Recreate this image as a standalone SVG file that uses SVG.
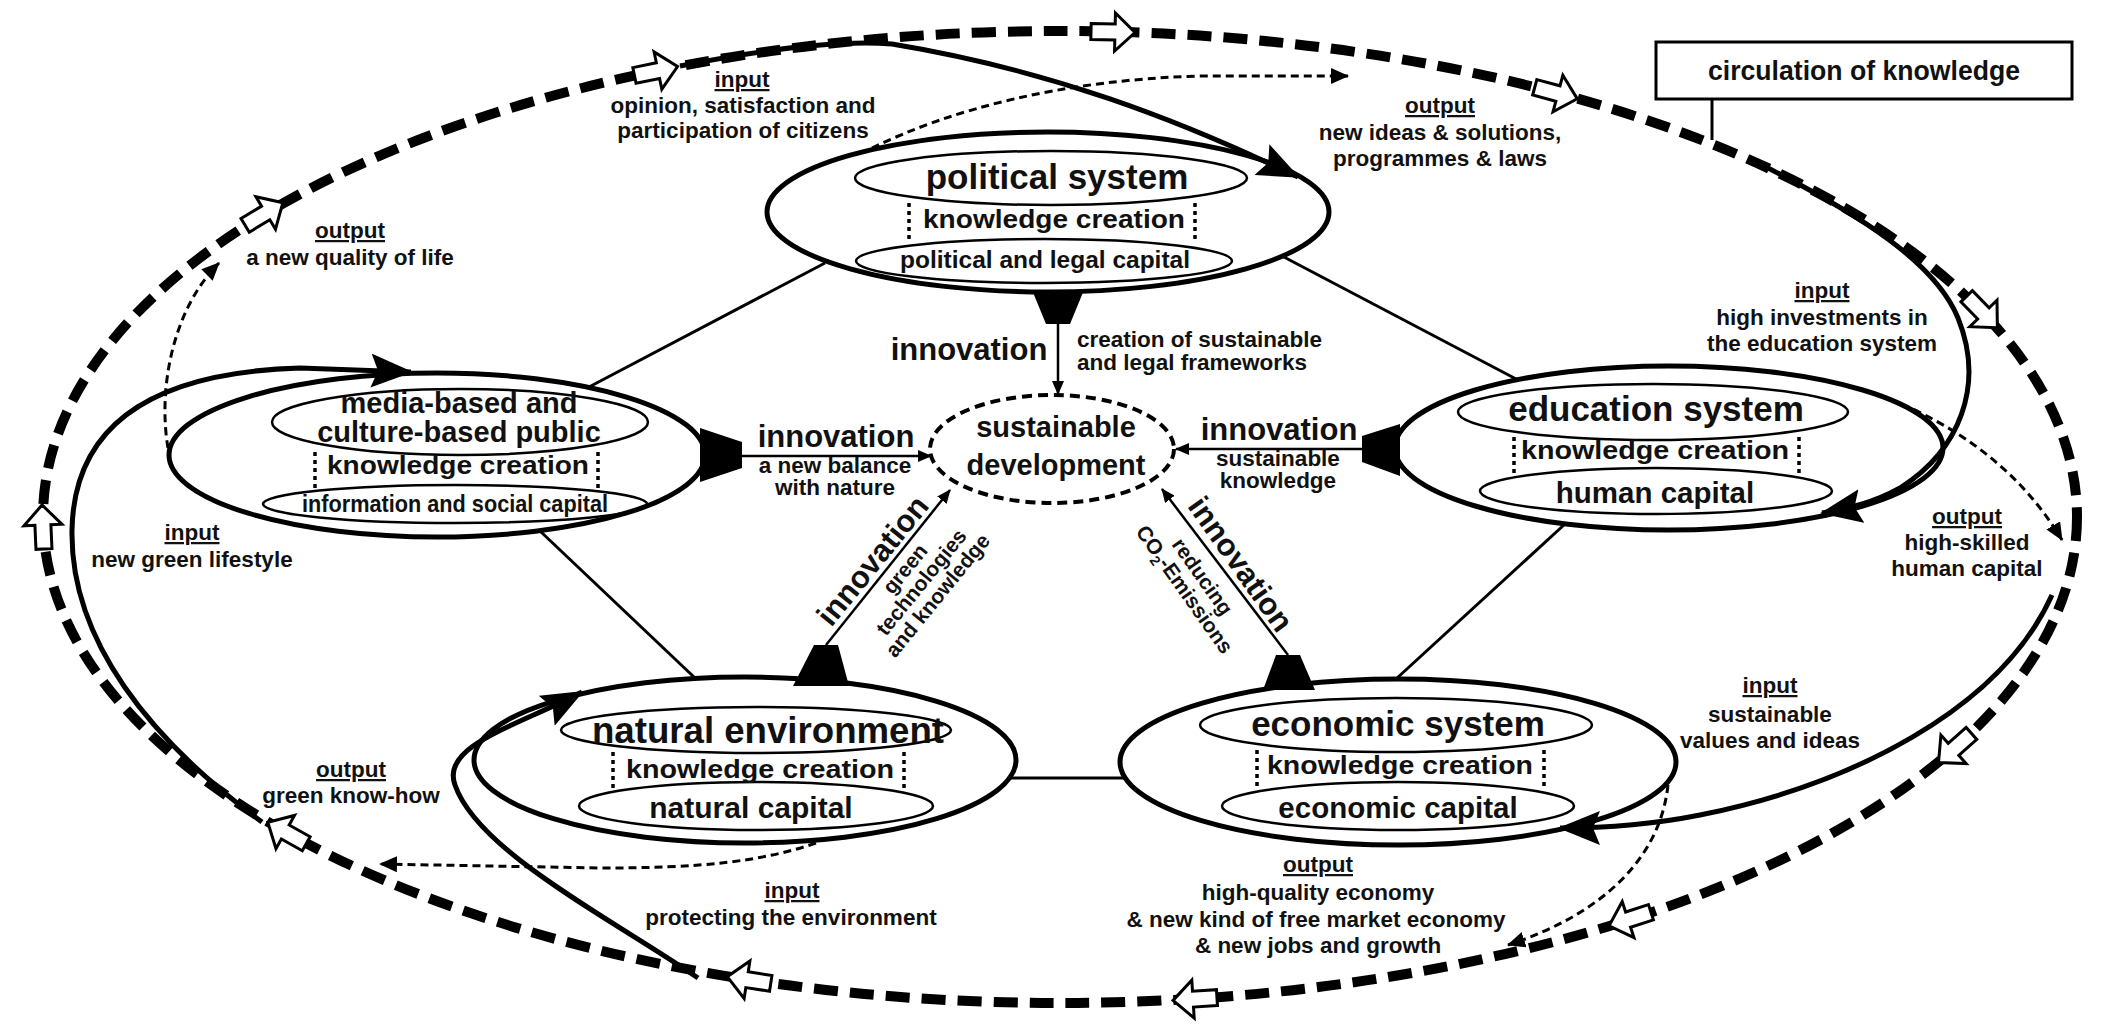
<svg xmlns="http://www.w3.org/2000/svg" width="2101" height="1026" viewBox="0 0 2101 1026">
<style>
  text { font-family: "Liberation Sans", Arial, sans-serif; font-weight: bold; fill: #111; text-anchor: middle; }
  .lbl { font-size: 22.5px; }
  .u { text-decoration: underline; }
  .hd { font-size: 35px; }
  .kc { font-size: 26px; }
  .cap { font-size: 29.5px; }
  .inn { font-size: 31px; }
  .sm { font-size: 21px; }
  .outer { fill: #fff; stroke: #000; stroke-width: 5; }
  .inner { fill: none; stroke: #000; stroke-width: 2.5; }
  .dots { stroke: #000; stroke-width: 3.5; stroke-dasharray: 4 4; }
  .link { stroke: #000; stroke-width: 3; fill: none; }
  .loop { stroke: #000; stroke-width: 5; fill: none; marker-end: url(#mBig); }
  .dash { stroke: #000; stroke-width: 3; fill: none; stroke-dasharray: 8 5; marker-end: url(#mDot); }
  .inl { stroke: #000; stroke-width: 2.5; fill: none; marker-end: url(#mSmall); }
  .trap { fill: #000; }
  .circ { fill: none; stroke: #000; stroke-width: 10; stroke-dasharray: 24 12; }
</style>
<defs>
  <marker id="mBig" markerUnits="userSpaceOnUse" markerWidth="42" markerHeight="34" viewBox="0 0 42 34" refX="40" refY="17" orient="auto">
    <path d="M0,0 L42,17 L0,34 L7,17 Z" fill="#000" stroke="none"/>
  </marker>
  <marker id="mSmall" markerUnits="userSpaceOnUse" markerWidth="14" markerHeight="12" viewBox="0 0 14 12" refX="13" refY="6" orient="auto">
    <path d="M0,0 L14,6 L0,12 Z" fill="#000" stroke="none"/>
  </marker>
  <marker id="mDot" markerUnits="userSpaceOnUse" markerWidth="18" markerHeight="16" viewBox="0 0 18 16" refX="17" refY="8" orient="auto">
    <path d="M0,0 L18,8 L0,16 Z" fill="#000" stroke="none"/>
  </marker>
  <path id="hollow" d="M-22,-8 L2,-8 L2,-19 L22,0 L2,19 L2,8 L-22,8 Z" fill="#fff" stroke="#000" stroke-width="3"/>
</defs>
<rect x="0" y="0" width="2101" height="1026" fill="#fff"/>

<g id="node-links">
  <line class="link" x1="825" y1="263" x2="589" y2="387"/>
  <line class="link" x1="1282" y1="256" x2="1518" y2="380"/>
  <line class="link" x1="540" y1="531" x2="695" y2="678"/>
  <line class="link" x1="1565" y1="524" x2="1396" y2="679"/>
  <line class="link" x1="1010" y1="778" x2="1126" y2="778"/>
</g>

<g id="political-system">
  <ellipse class="outer" cx="1048" cy="212" rx="281" ry="80"/>
  <ellipse class="inner" cx="1051" cy="178" rx="196" ry="27"/>
  <ellipse class="inner" cx="1044" cy="261" rx="188" ry="22"/>
  <line class="dots" x1="909" y1="203" x2="909" y2="240"/>
  <line class="dots" x1="1195" y1="203" x2="1195" y2="240"/>
  <text class="hd" x="1057" y="189">political system</text>
  <text class="kc" x="1054" y="228" textLength="262" lengthAdjust="spacingAndGlyphs">knowledge creation</text>
  <text x="1045" y="268" font-size="24.5">political and legal capital</text>
</g>

<g id="media-public">
  <ellipse class="outer" cx="437" cy="455" rx="268" ry="82"/>
  <ellipse class="inner" cx="460" cy="422" rx="188" ry="33"/>
  <ellipse class="inner" cx="455" cy="504" rx="192" ry="19"/>
  <line class="dots" x1="315" y1="452" x2="315" y2="488"/>
  <line class="dots" x1="598" y1="452" x2="598" y2="488"/>
  <text x="459" y="413" font-size="29">media-based and</text>
  <text x="459" y="442" font-size="29">culture-based public</text>
  <text class="kc" x="458" y="474" textLength="262" lengthAdjust="spacingAndGlyphs">knowledge creation</text>
  <text x="455" y="512" font-size="24" font-weight="normal" textLength="306" lengthAdjust="spacingAndGlyphs">information and social capital</text>
</g>

<g id="education-system">
  <ellipse class="outer" cx="1669" cy="448" rx="274" ry="82"/>
  <ellipse class="inner" cx="1653" cy="412" rx="195" ry="28"/>
  <ellipse class="inner" cx="1656" cy="491" rx="176" ry="23"/>
  <line class="dots" x1="1514" y1="437" x2="1514" y2="474"/>
  <line class="dots" x1="1799" y1="437" x2="1799" y2="474"/>
  <text class="hd" x="1656" y="421">education system</text>
  <text class="kc" x="1655" y="459" textLength="268" lengthAdjust="spacingAndGlyphs">knowledge creation</text>
  <text class="cap" x="1655" y="503">human capital</text>
</g>

<g id="natural-environment">
  <ellipse class="outer" cx="745" cy="760" rx="271" ry="83"/>
  <ellipse class="inner" cx="756" cy="730" rx="195" ry="23"/>
  <ellipse class="inner" cx="756" cy="806" rx="177" ry="24"/>
  <line class="dots" x1="613" y1="752" x2="613" y2="790"/>
  <line class="dots" x1="904" y1="752" x2="904" y2="790"/>
  <text x="768" y="743" font-size="36" textLength="352" lengthAdjust="spacingAndGlyphs">natural environment</text>
  <text class="kc" x="760" y="778" textLength="268" lengthAdjust="spacingAndGlyphs">knowledge creation</text>
  <text x="751" y="818" font-size="30">natural capital</text>
</g>

<g id="economic-system">
  <ellipse class="outer" cx="1398" cy="762" rx="278" ry="83"/>
  <ellipse class="inner" cx="1396" cy="725" rx="196" ry="27"/>
  <ellipse class="inner" cx="1398" cy="806" rx="176" ry="24"/>
  <line class="dots" x1="1257" y1="750" x2="1257" y2="788"/>
  <line class="dots" x1="1544" y1="750" x2="1544" y2="788"/>
  <text class="hd" x="1398" y="736">economic system</text>
  <text class="kc" x="1400" y="774" textLength="266" lengthAdjust="spacingAndGlyphs">knowledge creation</text>
  <text class="cap" x="1398" y="818">economic capital</text>
</g>

<g id="sustainable-development">
  <ellipse cx="1052" cy="449" rx="122" ry="54" fill="#fff" stroke="#000" stroke-width="4" stroke-dasharray="10 6"/>
  <text x="1056" y="437" font-size="29">sustainable</text>
  <text x="1056" y="475" font-size="29">development</text>
</g>

<g id="circulation-of-knowledge">
  <rect x="1656" y="42" width="416" height="57" fill="#fff" stroke="#000" stroke-width="3"/>
  <text x="1864" y="80" font-size="27" textLength="312" lengthAdjust="spacingAndGlyphs">circulation of knowledge</text>
</g>

<g id="connectors">
  <ellipse class="circ" cx="1060" cy="517" rx="1017" ry="486"/>
  <line class="link" x1="1712" y1="99" x2="1712" y2="140"/>

  <!-- input loops -->
  <path class="loop" d="M680,66 C760,50 840,40 892,44 C1050,70 1180,120 1298,177"/>
  <path class="loop" d="M1766,167 C1860,215 1935,262 1958,318 C1985,385 1960,450 1900,488 C1873,503 1850,508 1822,513"/>
  <path class="loop" d="M262,822 C150,740 70,640 72,530 C74,420 160,372 300,368 L411,372"/>
  <path class="loop" d="M698,978 C614,920 478,852 455,785 C440,745 520,725 582,692"/>
  <path class="loop" d="M2052,595 C2000,710 1850,785 1700,815 C1650,825 1600,828 1560,828"/>

  <!-- output dotted arrows -->
  <path class="dash" d="M872,148 C950,110 1060,80 1200,76 L1348,76"/>
  <path class="dash" d="M1902,404 C1960,430 2020,470 2062,540"/>
  <path class="dash" d="M1668,785 C1660,860 1600,915 1508,945"/>
  <path class="dash" d="M816,843 C760,862 700,868 600,868 L380,864"/>
  <path class="dash" d="M168,448 C158,390 172,310 219,263"/>

  <!-- innovation arrows -->
  <polygon class="trap" points="1032,290 1084,290 1070,324 1046,324"/>
  <line class="inl" x1="1058" y1="324" x2="1058" y2="394"/>
  <polygon class="trap" points="700,428 700,482 742,468 742,442"/>
  <line class="inl" x1="742" y1="456" x2="931" y2="456"/>
  <polygon class="trap" points="1400,424 1400,476 1362,462 1362,436"/>
  <line class="inl" x1="1362" y1="449" x2="1176" y2="449"/>
  <polygon class="trap" points="793,686 849,686 838,645 814,645"/>
  <line class="inl" x1="826" y1="645" x2="950" y2="490"/>
  <polygon class="trap" points="1263,690 1315,690 1300,655 1276,655"/>
  <line class="inl" x1="1288" y1="655" x2="1162" y2="489"/>

  <!-- hollow circulation arrows -->
  <use href="#hollow" transform="translate(656,71) rotate(-11.7)"/>
  <use href="#hollow" transform="translate(1113,32) rotate(1.4)"/>
  <use href="#hollow" transform="translate(1556,93) rotate(15)"/>
  <use href="#hollow" transform="translate(1982,312) rotate(45.7)"/>
  <use href="#hollow" transform="translate(1955,748) rotate(138.5)"/>
  <use href="#hollow" transform="translate(1630,919) rotate(162)"/>
  <use href="#hollow" transform="translate(1195,999) rotate(176.4)"/>
  <use href="#hollow" transform="translate(749,980) rotate(188.7)"/>
  <use href="#hollow" transform="translate(287,833) rotate(209.2)"/>
  <use href="#hollow" transform="translate(43,527) rotate(267.5)"/>
  <use href="#hollow" transform="translate(264,214) rotate(-31)"/>
</g>

<g id="labels">
  <!-- innovation labels -->
  <text class="inn" x="969" y="360">innovation</text>
  <text class="lbl" x="1077" y="347" style="text-anchor:start">creation of sustainable</text>
  <text class="lbl" x="1077" y="370" style="text-anchor:start">and legal frameworks</text>

  <text class="inn" x="836" y="447">innovation</text>
  <text class="lbl" x="835" y="473">a new balance</text>
  <text class="lbl" x="835" y="495">with nature</text>

  <text class="inn" x="1279" y="440">innovation</text>
  <text class="lbl" x="1278" y="466">sustainable</text>
  <text class="lbl" x="1278" y="488">knowledge</text>

  <g transform="translate(890,567) rotate(-50.85)">
    <text class="inn" x="-6" y="-7">innovation</text>
    <text class="sm" x="8" y="20">green</text>
    <text class="sm" x="8" y="41">technologies</text>
    <text class="sm" x="8" y="62">and knowledge</text>
  </g>
  <g transform="translate(1222,575) rotate(54.7)">
    <text class="inn" x="2" y="-11">innovation</text>
    <text class="sm" x="-10" y="24">reducing</text>
    <text class="sm" x="-10" y="46">CO<tspan font-size="14" dy="5">2</tspan><tspan dy="-5">-Emissions</tspan></text>
  </g>

  <!-- input / output labels -->
  <text class="lbl u" x="742" y="87">input</text>
  <text class="lbl" x="743" y="113">opinion, satisfaction and</text>
  <text class="lbl" x="743" y="138">participation of citizens</text>

  <text class="lbl u" x="1440" y="113">output</text>
  <text class="lbl" x="1440" y="140">new ideas &amp; solutions,</text>
  <text class="lbl" x="1440" y="166">programmes &amp; laws</text>

  <text class="lbl u" x="350" y="238">output</text>
  <text class="lbl" x="350" y="265">a new quality of life</text>

  <text class="lbl u" x="1822" y="298">input</text>
  <text class="lbl" x="1822" y="325">high investments in</text>
  <text class="lbl" x="1822" y="351">the education system</text>

  <text class="lbl u" x="1967" y="524">output</text>
  <text class="lbl" x="1967" y="550">high-skilled</text>
  <text class="lbl" x="1967" y="576">human capital</text>

  <text class="lbl u" x="1770" y="693">input</text>
  <text class="lbl" x="1770" y="722">sustainable</text>
  <text class="lbl" x="1770" y="748">values and ideas</text>

  <text class="lbl u" x="1318" y="872">output</text>
  <text class="lbl" x="1318" y="900">high-quality economy</text>
  <text class="lbl" x="1316" y="927">&amp; new kind of free market economy</text>
  <text class="lbl" x="1318" y="953">&amp; new jobs and growth</text>

  <text class="lbl u" x="792" y="898">input</text>
  <text class="lbl" x="791" y="925">protecting the environment</text>

  <text class="lbl u" x="351" y="777">output</text>
  <text class="lbl" x="351" y="803">green know-how</text>

  <text class="lbl u" x="192" y="540">input</text>
  <text class="lbl" x="192" y="567">new green lifestyle</text>
</g>
</svg>
